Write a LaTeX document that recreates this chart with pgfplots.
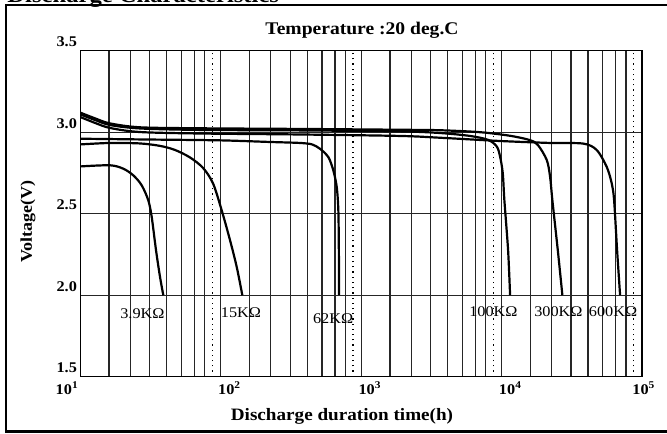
\documentclass[border=0pt]{standalone}
\usepackage{fontspec}
\setmainfont{Liberation Serif}[FakeStretch=1.1]
\usepackage{pgfplots}
\pgfplotsset{compat=1.18}
\tikzset{lab/.style={font=\fontsize{7.4}{8}\selectfont, inner sep=0pt},
         curve/.style={black, solid, line width=1.1pt, smooth, mark=none}}
\begin{document}
\begin{tikzpicture}
\draw[line width=1.25pt] (3pt,0.75pt) rectangle (340pt,214pt);
\begin{axis}[
  at={(40.15pt,28.15pt)}, anchor=south west,
  scale only axis, width=280.85pt, height=163pt,
  xmode=log, xmin=10, xmax=100000, ymin=1.5, ymax=3.5,
  xtick={10,16.03,22.70,31.19,41.30,52.6,65.16,76.9,
         100,160.3,227,311.9,413,526,651.6,769,
         1000,1603,2270,3119,4130,5260,6516,7690,
         10000,16030,22700,31190,41300,52600,65160,76900,100000},
  xticklabels={{\llap{10\textsuperscript{1}}},{},{},{},{},{},{},{},
               10\textsuperscript{2},{},{},{},{},{},{},{},
               10\textsuperscript{3},{},{},{},{},{},{},{},
               10\textsuperscript{4},{},{},{},{},{},{},{},
               {\hspace*{-3.5pt}10\textsuperscript{5}}},
  extra x ticks={87.5,875,8750,87500},
  extra x tick labels={},
  extra x tick style={grid=major, major grid style={black, line width=0.6pt, dotted}},
  ytick={1.5,2.0,2.5,3.0,3.5},
  yticklabels={1.5,2.0,2.5,3.0,3.5},
  xmajorgrids, ymajorgrids, xminorgrids=false,
  major grid style={black!85, line width=0.6pt},
  major tick length=0pt, minor tick length=0pt,
  axis line style={black, line width=0.6pt},
  xticklabel style={font=\bfseries\fontsize{7.4}{8}\selectfont, inner sep=0pt, anchor=north west, xshift=-1.5pt, yshift=-2.5pt},
  yticklabel style={font=\bfseries\fontsize{7.4}{8}\selectfont, inner sep=0pt, anchor=east, xshift=-1.5pt, yshift=4.25pt},
]
% 3.9 kOhm
\addplot[curve] coordinates {(10,2.79) (16.27,2.797) (20.24,2.776) (23.86,2.735) (27.37,2.674) (30.49,2.582) (32.25,2.48) (34.61,2.276) (36.96,2.112) (39.01,2.0)};
% 15 kOhm
\addplot[curve] coordinates {(10,2.925) (16.27,2.934) (26.62,2.931) (36.96,2.916) (47.26,2.891) (60.43,2.845) (74.8,2.781) (88.13,2.686) (101.65,2.52) (116.5,2.337) (130,2.173) (142.5,2.0)};
% 62 kOhm
\addplot[curve] coordinates {(10,2.96) (31.36,2.955) (98.9,2.95) (224.5,2.94) (367.1,2.934) (447,2.925) (509.7,2.898) (584,2.847) (633.9,2.765) (670.2,2.663) (688,2.52) (693.8,2.276) (696.1,2.0)};
% 100 kOhm
\addplot[curve] coordinates {(10,3.109) (12.73,3.075) (16.27,3.044) (26.62,3.023) (71.21,3.014) (367.1,3.011) (1893,3.005) (3648,2.995) (5966,2.977) (8015,2.953) (9244,2.912) (9756,2.85) (10198,2.748) (10469,2.582) (11126,2.276) (11495,2.0)};
% 300 kOhm
\addplot[curve] coordinates {(10,3.12) (12.73,3.085) (16.27,3.054) (26.62,3.03) (71.21,3.024) (367.1,3.02) (1893,3.015) (3648,3.012) (7029,3.0) (11495,2.978) (15959,2.951) (18197,2.92) (20983,2.829) (22150,2.727) (22999,2.582) (25137,2.276) (27101,2.0)};
% 600 kOhm
\addplot[curve] coordinates {(10,3.093) (12.73,3.057) (16.27,3.026) (26.62,3.001) (71.21,2.992) (367.1,2.986) (1893,2.977) (3648,2.966) (9756,2.946) (22150,2.934) (38240,2.93) (47643,2.89) (56140,2.786) (60940,2.684) (63290,2.582) (66460,2.276) (69820,2.0)};
\node[lab] at (axis cs:27.7,1.888) {3.9KΩ};
\node[lab] at (axis cs:139.5,1.893) {15KΩ};
\node[lab] at (axis cs:631,1.853) {62KΩ};
\node[lab] at (axis cs:8750,1.898) {100KΩ};
\node[lab] at (axis cs:25390,1.898) {300KΩ};
\node[lab] at (axis cs:62250,1.898) {600KΩ};
\end{axis}
\node[anchor=base, inner sep=0pt, font=\bfseries\fontsize{8.9}{10}\selectfont] at (181pt,199pt) {Temperature :20 deg.C};
\node[anchor=base, inner sep=0pt, font=\bfseries\fontsize{8.7}{10}\selectfont] at (171pt,6.15pt) {Discharge duration time(h)};
\node[rotate=90, inner sep=0pt, font=\bfseries\fontsize{8.2}{10}\selectfont] at (14pt,105.75pt) {Voltage(V)};
\node[anchor=base west, inner sep=0pt, font=\bfseries\fontsize{11.2}{12}\selectfont] at (3.5pt,215pt) {Discharge Characteristics};
\pgfresetboundingbox
\path[use as bounding box] (0,0) rectangle (333.5pt,216.5pt);
\end{tikzpicture}
\end{document}
